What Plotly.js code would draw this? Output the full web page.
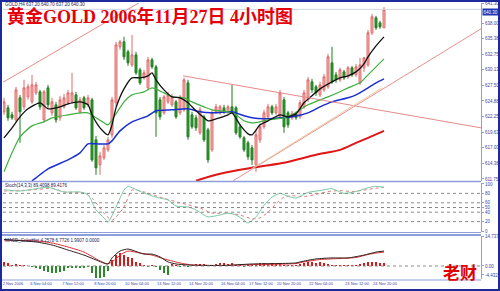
<!DOCTYPE html>
<html><head><meta charset="utf-8">
<script src="https://cdn.plot.ly/plotly-3.0.1.min.js"></script>
<style>html,body{margin:0;padding:0;background:#fff;}#chart{width:500px;height:291px;}</style>
</head><body><div id="chart"></div>
<script>
// ---- Candles (GOLD H4) ----
const openP = [623.05,623.72,622.55,621.70,625.41,623.89,625.57,624.73,626.25,626.42,
621.70,627.09,622.88,624.23,622.04,623.89,624.57,624.73,625.91,623.05,
625.41,624.23,625.07,618.34,614.13,615.31,616.65,619.18,624.57,633.99,
634.83,633.15,630.96,632.64,630.12,628.77,627.09,631.80,630.62,625.07,
622.88,624.73,624.23,624.73,622.88,623.39,627.93,622.55,622.04,619.52,
622.21,620.02,616.65,623.05,622.88,623.72,623.05,623.89,623.72,620.53,
618.67,617.83,616.99,614.13,618.34,620.53,622.21,623.89,622.88,622.21,
625.07,622.88,622.04,622.71,622.21,623.89,625.07,628.10,627.26,625.91,
626.75,627.26,631.30,629.28,628.44,629.78,628.94,630.46,629.28,627.93,
630.46,630.96,636.35,638.87,638.03,637.20];
const highP = [625.41,624.23,623.05,627.26,625.91,628.44,627.76,629.28,628.10,626.75,
626.75,627.59,625.41,624.73,625.74,626.08,626.75,629.61,626.42,625.57,
625.74,625.91,625.41,619.01,616.32,617.49,618.84,625.57,634.83,635.17,
635.67,633.49,636.01,633.15,630.46,630.12,632.31,632.14,630.96,625.57,
625.91,626.42,626.08,625.07,625.91,628.77,628.44,623.05,622.55,623.89,
622.55,620.36,623.39,624.40,624.23,624.23,624.23,627.59,624.06,621.03,
619.01,618.17,617.49,620.02,621.03,623.39,624.40,624.23,624.40,626.75,
625.57,623.22,623.22,623.05,625.07,626.75,628.94,628.60,627.59,628.10,
629.45,632.81,633.99,629.78,630.46,630.12,630.79,630.79,631.13,632.14,
632.31,636.85,639.54,639.21,638.37,640.70];
const lowP = [622.55,621.54,621.70,621.37,617.83,623.39,625.07,624.40,625.91,623.39,
621.37,623.72,622.38,621.20,621.54,623.56,624.23,624.40,623.39,622.71,
623.39,623.89,614.64,612.45,612.45,614.97,616.32,618.67,623.89,633.49,
631.80,630.79,630.62,629.28,627.59,628.44,626.75,630.29,618.84,621.70,
622.55,624.40,623.89,621.87,622.55,623.05,618.34,620.19,619.85,619.18,
618.00,614.47,616.32,622.71,622.55,622.71,622.71,622.71,619.18,618.51,
616.32,614.97,614.13,612.95,617.83,620.19,621.87,622.55,622.55,621.87,
619.52,620.36,621.70,621.70,621.87,623.56,624.73,626.25,625.74,625.57,
626.42,626.92,627.76,627.93,628.10,628.44,628.60,628.94,628.94,627.59,
629.78,630.62,636.01,636.85,637.02,637.20];
const closeP = [624.73,622.04,622.04,626.75,623.05,627.09,627.26,627.59,627.59,623.89,
626.42,624.23,624.73,621.70,625.07,625.41,626.25,626.25,623.72,625.07,
623.72,625.41,614.97,613.63,615.65,616.99,618.34,625.07,634.33,634.83,
632.31,631.30,632.64,629.61,627.93,629.61,631.80,630.62,622.88,622.21,
625.57,625.91,625.57,622.21,625.57,628.44,618.84,620.53,620.36,623.39,
618.34,614.97,622.88,623.89,623.89,623.05,623.89,623.05,619.52,618.84,
616.65,615.48,614.97,619.18,620.53,622.88,623.89,622.88,623.89,626.25,
620.53,620.86,622.71,622.04,624.57,626.25,628.44,626.75,626.25,627.59,
628.94,632.31,628.10,628.44,630.12,628.77,630.46,629.28,630.62,630.96,
632.14,636.35,639.04,637.19,637.36,640.30];

// ---- Moving averages ----
const maBlackIdx = [0,2,4,6,9,11,14,16,19,21,22,24,26,27,28,30,32,34,36,37,38,40,42,44,46,48,50,51,53,56,57,59,61,62,64,66,69,71,73,75,77,79,82,84,86,88,90,91,93,95];
const maBlackVal = [618.67,620.36,622.21,623.56,624.57,623.56,623.89,624.40,624.73,624.23,622.55,620.36,619.18,620.86,623.72,626.92,628.77,628.77,629.11,629.61,628.44,626.75,625.57,625.41,624.57,623.22,622.04,621.54,621.87,622.55,622.88,620.86,619.35,619.18,620.86,621.54,622.55,622.21,622.71,624.57,625.74,626.92,628.10,628.77,629.11,629.78,631.13,632.31,634.16,635.67];
const maGreenIdx = [0,2,4,7,10,12,16,19,21,23,25,26,28,30,32,35,37,40,42,45,47,50,52,56,58,60,62,64,66,70,72,74,76,79,81,84,86,89,91,93,95];
const maGreenVal = [612.95,616.15,618.84,620.69,621.37,622.04,622.55,622.88,622.88,622.04,621.20,620.86,622.71,624.73,625.91,626.42,627.09,626.25,625.57,625.41,624.73,623.89,623.39,623.05,622.55,621.54,621.20,621.37,621.70,622.04,622.55,623.39,624.23,625.07,625.57,626.42,627.09,627.93,629.28,630.62,631.97];
const maBlueIdx = [7,8,11,16,19,21,23,26,27,29,32,36,38,42,46,49,52,57,60,62,65,69,72,76,79,82,86,88,91,93,95];
const maBlueVal = [611.45,611.95,613.46,614.97,616.15,617.66,617.66,617.66,618.17,619.85,621.37,622.38,623.22,623.39,623.56,623.05,622.88,623.05,622.38,622.04,621.87,622.04,622.21,622.88,623.89,624.73,625.41,625.91,627.09,627.93,628.60];
const maRedIdx = [48,53,59,62,70,78,84,88,91,95];
const maRedVal = [611.45,612.45,613.29,613.63,614.47,615.82,616.65,617.83,618.67,619.85];

// ---- Trend lines (bar index, price) ----
const trend1X = [-0.5, 33.75], trend1Y = [627.93, 641.40];
const trend2X = [44.75, 119.25], trend2Y = [629.11, 620.36];
const trend3X = [57.25, 119.25], trend3Y = [611.44, 637.02];
const trend4X = [61.5, 94.5],   trend4Y = [613.29, 627.09];

// ---- Stochastic ----
const stochKIdx = [0,4,8,11,15,19,21,23,25,26,28,30,31,32,35,38,41,43,46,48,50,51,54,56,58,60,61,63,65,67,69,71,73,76,79,82,85,88,91,93,95];
const stochKVal = [88,85,90,93,83,83,77,45,28,19,51,87,95,92,81,72,66,53,51,45,34,30,34,38,34,23,17,30,55,72,80,74,70,82,86,90,80,84,92,95,93];
const stochDIdx = [0,4,8,12,15,20,22,25,27,30,32,35,39,44,49,52,56,59,62,64,66,68,70,72,75,78,81,84,87,90,93,95];
const stochDVal = [85,86,88,91,83,81,70,38,23,51,87,83,72,60,49,38,38,34,26,28,40,58,72,75,73,78,84,86,84,87,91,93];
const stochLevels = [80,60,50,40,20];
const stochTicks = [100,80,60,50,40,20,0];

// ---- MACD ----
const macdHist = [2.0,1.5,0.5,1.0,0.5,0.3,0.2,-0.5,-1.0,-1.5,
-2.5,-3.0,-3.5,-3.5,-3.0,-2.5,-1.0,-1.0,-1.0,-0.8,
-0.8,-0.5,-3.5,-5.9,-5.9,-5.4,-2.5,3.0,5.4,6.4,
5.4,4.5,4.0,2.0,1.5,0.3,-0.3,0.3,-0.5,-2.0,
-3.5,-4.5,1.0,0.5,-0.5,0.3,-0.3,0.5,0.8,1.0,
0.8,0.3,0.5,1.0,1.5,1.3,1.0,1.5,0.5,0.3,
-0.3,0.3,0.5,1.0,1.5,1.5,1.2,1.5,1.0,1.2,
0.5,0.3,0.3,0.5,1.0,1.5,2.0,2.0,1.5,2.0,
1.5,1.0,0.5,0.3,0.3,0.5,0.3,0.3,0.5,0.8,
1.5,2.0,2.0,2.0,1.5,1.5];
const macdIdx = [0,8,12,16,20,23,26,27,29,31,32,35,37,39,41,43,46,55,62,73,74,78,82,86,90,93,95];
const macdVal = [13.1,11.9,10.4,7.9,5.4,3.0,1.0,4.0,7.4,8.4,7.9,5.9,5.9,4.5,2.0,1.0,0.5,0.25,1.0,1.5,2.0,3.5,4.0,4.0,5.4,6.9,7.4];
const signalIdx = [0,8,12,16,20,24,26,28,29,31,34,37,40,41,44,47,55,62,73,75,79,84,88,91,93,95];
const signalVal = [12.9,12.4,11.4,9.4,6.9,2.5,1.0,3.5,5.4,7.4,6.4,5.4,3.5,3.0,1.5,0.5,0.25,0.7,1.2,2.0,3.2,3.7,4.2,5.7,6.4,6.9];
const macdTicks = [14.737, 0, -4.432];
const macdTickText = ['14.737','0.00','-4.432'];

// ---- Axis labels ----
const xLabelBars = [0,7,15,23,31,39,47,55,62,69,77,86,93];
const xLabels = ['2 Nov 2006','6 Nov 04:00','7 Nov 12:00','8 Nov 20:00','10 Nov 04:00','13 Nov 12:00','14 Nov 20:00','16 Nov 04:00','17 Nov 12:00','20 Nov 20:00','22 Nov 04:00','23 Nov 12:00','24 Nov 20:00'];
const priceTicks = [641.30,638.00,635.38,632.75,630.13,627.50,624.88,622.25,619.63,617.00,614.38,611.75];

const titleText = '黄金GOLD 2006年11月27日 4小时图';
const legendText = 'GOLD,H4 637.20 640.70 637.20 640.30';
const stochText = 'Stoch(14,3,3) 89.4098 89.4176';
const macdText = 'MACD_ColorHist 4.2578 6.7726 1.9907 0.0000';
const signText = '老财';

const bars = openP.map((_, i) => i);
const lastClose = closeP[closeP.length - 1];
const xRange = [-0.25, 119.25];

const axisBlue = '#3545a8';
const sepBlue = '#8f9fdc';

const traces = [
  {type:'candlestick', x:bars, open:openP, high:highP, low:lowP, close:closeP,
   xaxis:'x', yaxis:'y', whiskerwidth:0,
   increasing:{line:{color:'#e06a6a', width:1}, fillcolor:'#f6b3b3'},
   decreasing:{line:{color:'#1f7f1f', width:1}, fillcolor:'#2f9a2f'},
   hoverinfo:'skip', showlegend:false},
  {type:'scatter', mode:'lines', x:[xRange[0], xRange[1]], y:[lastClose,lastClose], xaxis:'x', yaxis:'y',
   line:{color:'#cfd3e6', width:1}, hoverinfo:'skip', showlegend:false},
  {type:'scatter', mode:'lines', x:maRedIdx, y:maRedVal, xaxis:'x', yaxis:'y', line:{color:'#e01515', width:2, shape:'spline', smoothing:0.6}, hoverinfo:'skip', showlegend:false},
  {type:'scatter', mode:'lines', x:maBlueIdx, y:maBlueVal, xaxis:'x', yaxis:'y', line:{color:'#1a2fd0', width:1.5, shape:'spline', smoothing:0.6}, hoverinfo:'skip', showlegend:false},
  {type:'scatter', mode:'lines', x:maGreenIdx, y:maGreenVal, xaxis:'x', yaxis:'y', line:{color:'#3fae3f', width:1.2, shape:'spline', smoothing:0.6}, hoverinfo:'skip', showlegend:false},
  {type:'scatter', mode:'lines', x:maBlackIdx, y:maBlackVal, xaxis:'x', yaxis:'y', line:{color:'#101010', width:1.3, shape:'spline', smoothing:0.6}, hoverinfo:'skip', showlegend:false},
  {type:'scatter', mode:'lines', x:trend1X, y:trend1Y, xaxis:'x', yaxis:'y', line:{color:'#e58a8a', width:1}, hoverinfo:'skip', showlegend:false},
  {type:'scatter', mode:'lines', x:trend2X, y:trend2Y, xaxis:'x', yaxis:'y', line:{color:'#e58a8a', width:1}, hoverinfo:'skip', showlegend:false},
  {type:'scatter', mode:'lines', x:trend3X, y:trend3Y, xaxis:'x', yaxis:'y', line:{color:'#e89090', width:1}, hoverinfo:'skip', showlegend:false},
  {type:'scatter', mode:'lines', x:trend4X, y:trend4Y, xaxis:'x', yaxis:'y', line:{color:'#f0c8a0', width:1}, hoverinfo:'skip', showlegend:false},
  {type:'scatter', mode:'lines', x:stochDIdx, y:stochDVal, xaxis:'x', yaxis:'y2', line:{color:'#e07878', width:1, dash:'dot', shape:'spline', smoothing:0.6}, hoverinfo:'skip', showlegend:false},
  {type:'scatter', mode:'lines', x:stochKIdx, y:stochKVal, xaxis:'x', yaxis:'y2', line:{color:'#7cc9a6', width:1, shape:'spline', smoothing:0.6}, hoverinfo:'skip', showlegend:false},
  {type:'bar', x:bars, y:macdHist, xaxis:'x', yaxis:'y3', width:0.3,
   marker:{color:macdHist.map(v => v >= 0 ? '#d81818' : '#2a8a2a'), line:{width:0}}, hoverinfo:'skip', showlegend:false},
  {type:'scatter', mode:'lines', x:signalIdx, y:signalVal, xaxis:'x', yaxis:'y3', line:{color:'#e03030', width:1, shape:'spline', smoothing:0.6}, hoverinfo:'skip', showlegend:false},
  {type:'scatter', mode:'lines', x:macdIdx, y:macdVal, xaxis:'x', yaxis:'y3', line:{color:'#302020', width:1, shape:'spline', smoothing:0.6}, hoverinfo:'skip', showlegend:false}
];

const W = 500, H = 291;
const py = p => 1 - p / H;
const shapes = [];
// panel separators
[[181.5,1.5],[232.5,1],[235,2],[280,1]].forEach(([p,w]) => {
  shapes.push({type:'line', xref:'paper', yref:'paper', x0:0.004, x1:0.962, y0:py(p), y1:py(p), line:{color:sepBlue, width:w}});
});
// stochastic levels
stochLevels.forEach(l => shapes.push({type:'line', xref:'paper', yref:'y2', x0:0.006, x1:0.962, y0:l, y1:l, line:{color:'#8a8a8a', width:1, dash:'dot'}}));
// MACD zero line
shapes.push({type:'line', xref:'paper', yref:'y3', x0:0.006, x1:0.962, y0:0, y1:0, line:{color:'#8a8a8a', width:1, dash:'dot'}});
// outer frame
shapes.push({type:'rect', xref:'paper', yref:'paper', x0:0, x1:1, y0:0, y1:1, line:{color:'#1c2a9c', width:4}});

const smallFont = {family:'Liberation Sans, Arial, sans-serif', size:4.5, color:axisBlue};

const layout = {
  width:W, height:H, margin:{l:0, r:0, t:0, b:0},
  paper_bgcolor:'#ffffff', plot_bgcolor:'#ffffff',
  showlegend:false, hovermode:false, dragmode:false,
  xaxis:{domain:[0.006,0.962], range:xRange, anchor:'y3', showgrid:false, zeroline:false, showline:false,
         tickmode:'array', tickvals:xLabelBars, ticktext:xLabels, ticks:'', ticklabelshift:9, ticklabelstandoff:1,
         tickfont:{family:'Liberation Sans, Arial, sans-serif', size:4, color:axisBlue},
         rangeslider:{visible:false}, fixedrange:true, automargin:false},
  yaxis:{domain:[py(181), py(3)], range:[611.41, 641.37], side:'right', anchor:'x', showgrid:false, zeroline:false,
         showline:true, linecolor:sepBlue, linewidth:1, ticks:'outside', ticklen:2, tickcolor:sepBlue,
         tickmode:'array', tickvals:priceTicks, ticktext:priceTicks.map(v => v.toFixed(2)), tickfont:smallFont, ticklabelstandoff:0,
         fixedrange:true, automargin:false},
  yaxis2:{domain:[py(232), py(183)], range:[-2.1, 102.1], side:'right', anchor:'x', showgrid:false, zeroline:false,
         showline:true, linecolor:sepBlue, linewidth:1, ticks:'outside', ticklen:2, tickcolor:sepBlue,
         tickmode:'array', tickvals:stochTicks, ticktext:stochTicks.map(String), tickfont:smallFont, ticklabelstandoff:0,
         fixedrange:true, automargin:false},
  yaxis3:{domain:[py(279), py(236)], range:[-6.44, 14.85], side:'right', anchor:'x', showgrid:false, zeroline:false,
         showline:true, linecolor:sepBlue, linewidth:1, ticks:'outside', ticklen:2, tickcolor:sepBlue,
         tickmode:'array', tickvals:macdTicks, ticktext:macdTickText, tickfont:smallFont, ticklabelstandoff:0,
         fixedrange:true, automargin:false},
  bargap:0,
  shapes:shapes,
  annotations:[
    {xref:'paper', yref:'paper', x:0.01, y:py(16.5), xanchor:'left', yanchor:'middle', showarrow:false,
     text:'<b>'+titleText+'</b>', font:{family:'Liberation Serif, Noto Sans CJK SC, serif', size:18, color:'#e6000a'}},
    {xref:'paper', yref:'paper', x:0.006, y:py(4.5), xanchor:'left', yanchor:'middle', showarrow:false,
     text:legendText, font:{family:'Liberation Sans, Arial, sans-serif', size:4.5, color:'#202050'}},
    {xref:'paper', yref:'paper', x:0.006, y:py(185.5), xanchor:'left', yanchor:'middle', showarrow:false,
     text:stochText, font:{family:'Liberation Sans, Arial, sans-serif', size:4.5, color:'#202050'}},
    {xref:'paper', yref:'paper', x:0.006, y:py(240), xanchor:'left', yanchor:'middle', showarrow:false,
     text:macdText, font:{family:'Liberation Sans, Arial, sans-serif', size:4.5, color:'#202050'}},
    {xref:'paper', yref:'y', x:0.963, y:lastClose, xanchor:'left', yanchor:'middle', showarrow:false, yshift:-3,
     text:lastClose.toFixed(2), bgcolor:'#2236b0', borderpad:0.5,
     font:{family:'Liberation Sans, Arial, sans-serif', size:4.5, color:'#ffffff'}},
    {xref:'paper', yref:'paper', x:0.92, y:py(271), xanchor:'center', yanchor:'middle', showarrow:false,
     text:'<b>'+signText+'</b>', font:{family:'Noto Sans CJK SC, sans-serif', size:17, color:'#e00000'}}
  ]
};

Plotly.newPlot('chart', traces, layout, {staticPlot:true, displayModeBar:false});
</script>
</body></html>
